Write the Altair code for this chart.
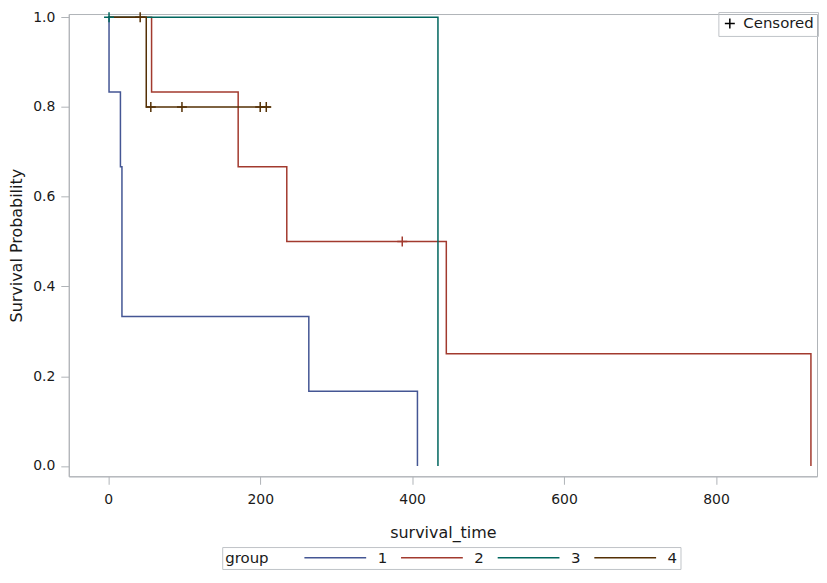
import altair as alt
import pandas as pd

# ---- data ----
groups = ["1", "2", "3", "4"]

g1_time = [0, 1, 16, 18, 264, 407]
g1_surv = [1.0, 0.8333, 0.6667, 0.3333, 0.1667, 0.0]

g2_time = [0, 57, 171, 235, 445, 925]
g2_surv = [1.0, 0.8333, 0.6667, 0.5, 0.25, 0.0]

g3_time = [0, 434]
g3_surv = [1.0, 0.0]

g4_time = [0, 50, 214]
g4_surv = [1.0, 0.8, 0.8]

cens_group = ["2", "3", "4", "4", "4", "4", "4"]
cens_time = [387, 1, 42, 56, 97, 200, 208]
cens_surv = [0.5, 1.0, 1.0, 0.8, 0.8, 0.8, 0.8]

x_ticks = [0, 200, 400, 600, 800]
y_ticks = [0.0, 0.2, 0.4, 0.6, 0.8, 1.0]

colors = ["#445694", "#A23A2E", "#01665E", "#543005"]
widths = [1.5, 1.5, 2.2, 1.8]

rows = []
for g, ts, ss in zip(groups, [g1_time, g2_time, g3_time, g4_time],
                     [g1_surv, g2_surv, g3_surv, g4_surv]):
    for t, s in zip(ts, ss):
        rows.append({"group": g, "survival_time": t, "surv": s})
curve_df = pd.DataFrame(rows)

cens_df = pd.DataFrame({
    "group": cens_group,
    "survival_time": cens_time,
    "surv": cens_surv,
    "cens": ["Censored"] * len(cens_group),
})

TXT = "#1a1a1a"
FRAME = "#b0b4b8"

color_scale = alt.Scale(domain=groups, range=colors)
x_scale = alt.Scale(domain=[-52, 933], nice=False, zero=False)
y_scale = alt.Scale(domain=[-0.023, 1.007], nice=False, zero=False)

x_axis = alt.Axis(values=x_ticks, title="survival_time", grid=False, tickSize=8,
                  labelPadding=8, titlePadding=18)
y_axis = alt.Axis(values=y_ticks, format=".1f", title="Survival Probability",
                  grid=False, tickSize=8, labelPadding=6, titlePadding=8)

lines = alt.Chart(curve_df).mark_line(interpolate="step-after").encode(
    x=alt.X("survival_time:Q", scale=x_scale, axis=x_axis),
    y=alt.Y("surv:Q", scale=y_scale, axis=y_axis),
    color=alt.Color("group:N", scale=color_scale, legend=alt.Legend(
        title="group", orient="none", legendX=154, legendY=535,
        direction="horizontal", titleOrient="left", titleBaseline="middle",
        symbolType="M0,0L62,0", symbolSize=4, symbolStrokeWidth=1.3,
        labelFontSize=15, titleFontSize=15, titleFontWeight="normal",
        titlePadding=28, labelOffset=66, columnPadding=6, padding=3,
        strokeColor="#c0c4c8", labelColor=TXT, titleColor=TXT)),
    strokeWidth=alt.StrokeWidth("group:N",
                                scale=alt.Scale(domain=groups, range=widths),
                                legend=None),
)

cens = alt.Chart(cens_df).mark_point(filled=False, strokeWidth=1.5, size=100,
                                     opacity=1).encode(
    x=alt.X("survival_time:Q", scale=x_scale),
    y=alt.Y("surv:Q", scale=y_scale),
    color=alt.Color("group:N", scale=color_scale, legend=None),
    shape=alt.Shape("cens:N",
                    scale=alt.Scale(domain=["Censored"],
                                    range=["M-1,0L1,0M0,-1L0,1"]),
                    legend=alt.Legend(title=None, orient="none", legendX=652,
                                      legendY=-2, symbolSize=100,
                                      symbolStrokeWidth=1.5,
                                      symbolStrokeColor="black",
                                      symbolFillColor="transparent",
                                      labelFontSize=15, labelColor=TXT,
                                      labelOffset=6, padding=4,
                                      strokeColor="#c0c4c8")),
)

chart = alt.layer(lines, cens).properties(
    width=751, height=464, padding=0
).configure(
    font="DejaVu Sans"
).configure_view(
    stroke=FRAME, strokeWidth=1
).configure_axis(
    labelFontSize=14, titleFontSize=16, titleFontWeight="normal",
    labelColor=TXT, titleColor=TXT, domainColor=FRAME, tickColor=FRAME,
)

chart.save("out.html", embed_options={"renderer": "svg", "actions": False})
